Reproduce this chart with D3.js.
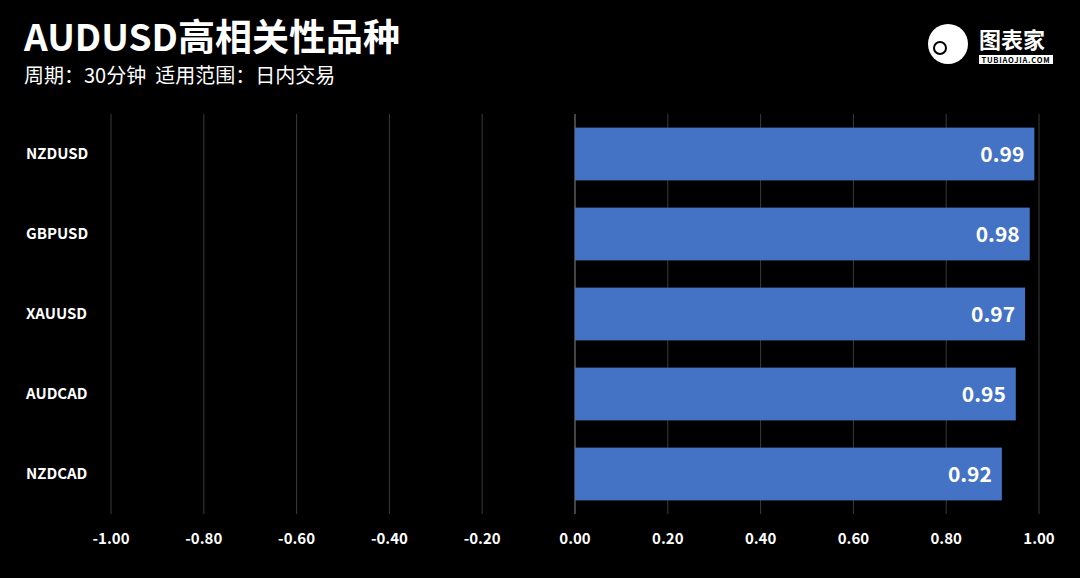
<!DOCTYPE html>
<html><head><meta charset="utf-8">
<script src="https://cdn.jsdelivr.net/npm/d3@7.9.0/dist/d3.min.js"></script>
<style>body{margin:0;background:#000}svg{display:block}</style>
</head><body><svg id="c" width="1080" height="578"></svg>
<script>
const pairs = ['NZDUSD', 'GBPUSD', 'XAUUSD', 'AUDCAD', 'NZDCAD'];
const values = [0.99, 0.98, 0.97, 0.95, 0.92];
const ticks = [-1, -0.8, -0.6, -0.4, -0.2, 0, 0.2, 0.4, 0.6, 0.8, 1];

const font = '"Noto Sans CJK SC", "Noto Sans", sans-serif';
const svg = d3.select('#c').style('font-family', font);
svg.append('rect').attr('width', 1080).attr('height', 578).attr('fill', '#000');

const x = d3.scaleLinear().domain([-1, 1]).range([111, 1039]);
const y = d3.scaleBand().domain(pairs).range([114, 514]).paddingInner(0.34).paddingOuter(0.17);

// gridlines
svg.append('g').selectAll('line').data(ticks).join('line')
    .attr('x1', d => x(d)).attr('x2', d => x(d))
    .attr('y1', 114).attr('y2', 514)
    .attr('stroke', d => d === 0 ? '#8a8a8a' : '#3a3a3a').attr('stroke-width', 1);

// bars
const rows = pairs.map((p, i) => ({ p, v: values[i] }));
svg.append('g').selectAll('rect').data(rows).join('rect')
    .attr('x', x(0)).attr('y', d => y(d.p))
    .attr('width', d => x(d.v) - x(0)).attr('height', y.bandwidth())
    .attr('fill', '#4472c4');

svg.append('g').selectAll('text').data(rows).join('text')
    .attr('x', d => x(d.v) - 10).attr('y', d => y(d.p) + y.bandwidth() / 2)
    .attr('dy', '0.36em').attr('text-anchor', 'end')
    .attr('fill', '#fff').attr('font-size', 21).attr('font-weight', 700)
    .text(d => d.v.toFixed(2));

// category labels
svg.append('g').selectAll('text').data(pairs).join('text')
    .attr('x', 26).attr('y', d => y(d) + y.bandwidth() / 2)
    .attr('dy', '0.36em').attr('fill', '#fff')
    .attr('font-size', 15).attr('font-weight', 700).text(d => d);

// x axis labels
svg.append('g').selectAll('text').data(ticks).join('text')
    .attr('x', d => x(d)).attr('y', 544).attr('text-anchor', 'middle')
    .attr('fill', '#fff').attr('font-size', 15).attr('font-weight', 700)
    .text(d => d.toFixed(2));

// titles
svg.append('text').attr('x', 24).attr('y', 51).attr('fill', '#fff')
    .attr('font-size', 37).attr('font-weight', 700).text('AUDUSD高相关性品种');
svg.append('text').attr('x', 24).attr('y', 83).attr('fill', '#fff')
    .attr('font-size', 20).attr('xml:space', 'preserve').text('周期：30分钟  适用范围：日内交易');

// logo
const logo = svg.append('g');
logo.append('circle').attr('cx', 948).attr('cy', 44).attr('r', 20).attr('fill', '#fff');
logo.append('circle').attr('cx', 940).attr('cy', 48).attr('r', 6).attr('fill', 'none').attr('stroke', '#000').attr('stroke-width', 2);
logo.append('text').attr('x', 979).attr('y', 48).attr('fill', '#fff')
    .attr('font-size', 22).attr('font-weight', 700).text('图表家');
logo.append('rect').attr('x', 979).attr('y', 55).attr('width', 74).attr('height', 9).attr('fill', '#fff');
logo.append('text').attr('x', 1016).attr('y', 62.5).attr('text-anchor', 'middle').attr('fill', '#000')
    .attr('font-size', 7.5).attr('font-weight', 700).attr('letter-spacing', 0.8).text('TUBIAOJIA.COM');
</script></body></html>
